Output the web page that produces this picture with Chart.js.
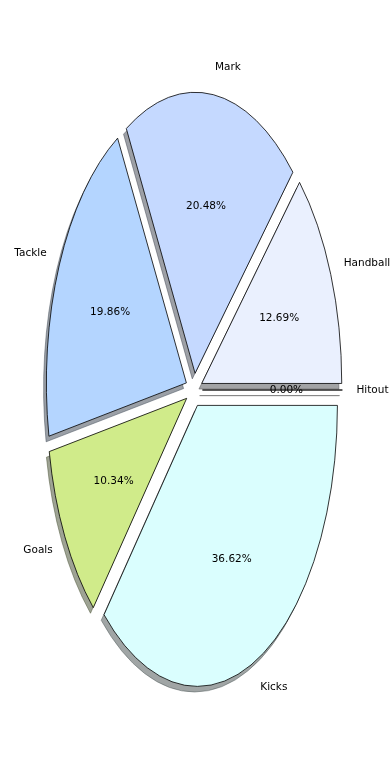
<!DOCTYPE html>
<html>
<head>
<meta charset="utf-8">
<script src="https://cdn.jsdelivr.net/npm/chart.js@4/dist/chart.umd.min.js"></script>
<style>
  html, body { margin: 0; padding: 0; background: #fff; }
  #wrap { width: 390px; height: 780px; }
</style>
</head>
<body>
<div id="wrap"><canvas id="pieChart"></canvas></div>
<script>
// --- Data (clockwise on screen, starting at 3 o'clock) ---
const categories = ['Kicks', 'Goals', 'Tackle', 'Mark', 'Handball', 'Hitout'];
const shares = [36.62, 10.34, 19.86, 20.48, 12.69, 0.00];
const sliceColors = ['#dafefe', '#d0eb8a', '#b4d5ff', '#c5d9ff', '#eaf0fe', '#f0f0f0'];

// --- Ellipse geometry (axes are not equal aspect) ---
const RX = 140;
const RY = 281;
const EXPLODE = 0.06 * RX;
const SHADOW = { dx: -0.02 * RX, dy: 0.02 * RY };

let pieCenter = null;

function toRgb(hex) {
  const n = parseInt(hex.slice(1), 16);
  return [(n >> 16) & 255, (n >> 8) & 255, n & 255];
}

function midAngle(arc) {
  return (arc.startAngle + arc.endAngle) / 2;
}

// wedge path in device space, y stretched about the pie centre
function arcPath(ctx, arc, dx = 0, dy = 0) {
  const { cx, cy } = pieCenter;
  const mid = midAngle(arc);
  ctx.save();
  ctx.translate(dx, dy);
  ctx.translate(cx, cy);
  ctx.scale(1, RY / RX);
  ctx.translate(-cx, -cy);
  ctx.translate(Math.cos(mid) * EXPLODE, Math.sin(mid) * EXPLODE);
  ctx.beginPath();
  ctx.moveTo(cx, cy);
  ctx.arc(cx, cy, arc.outerRadius, arc.startAngle, arc.endAngle);
  ctx.closePath();
  ctx.restore();
}

const ellipsePie = {
  id: 'ellipsePie',
  beforeDatasetsDraw(chart) {
    const ctx = chart.ctx;
    const arcs = chart.getDatasetMeta(0).data;
    pieCenter = { cx: arcs[0].x, cy: arcs[0].y };
    const { cx, cy } = pieCenter;

    // shadows under all wedges
    arcs.forEach((arc, i) => {
      const [r, g, b] = toRgb(sliceColors[i]).map(c => Math.round(c * 0.3));
      arcPath(ctx, arc, SHADOW.dx, SHADOW.dy);
      ctx.fillStyle = `rgba(${r},${g},${b},0.5)`;
      ctx.strokeStyle = `rgba(${r},${g},${b},0.5)`;
      ctx.lineWidth = 0.9;
      ctx.fill();
      ctx.stroke();
    });

    // explode: move each wedge centre out along its mid angle
    arcs.forEach(arc => {
      const mid = midAngle(arc);
      arc.x = cx + Math.cos(mid) * EXPLODE;
      arc.y = cy + Math.sin(mid) * EXPLODE;
    });

    ctx.save();
    ctx.translate(cx, cy);
    ctx.scale(1, RY / RX);
    ctx.translate(-cx, -cy);
  },
  afterDatasetsDraw(chart) {
    const ctx = chart.ctx;
    ctx.restore();
    const arcs = chart.getDatasetMeta(0).data;
    const { cx, cy } = pieCenter;
    arcs.forEach(arc => { arc.x = cx; arc.y = cy; });

    const total = shares.reduce((s, v) => s + v, 0);
    const k = RY / RX;

    arcs.forEach(arc => {
      arcPath(ctx, arc);
      ctx.strokeStyle = '#000';
      ctx.lineWidth = 0.8;
      ctx.stroke();
    });

    ctx.font = '10.5px "DejaVu Sans"';
    ctx.fillStyle = '#000';
    ctx.textBaseline = 'middle';
    arcs.forEach((arc, i) => {
      const mid = midAngle(arc);
      const c = Math.cos(mid), s = Math.sin(mid);
      const lx = cx + c * (EXPLODE + 1.1 * RX);
      const ly = cy + s * (EXPLODE + 1.1 * RX) * k;
      ctx.textAlign = c > 0 ? 'left' : 'right';
      ctx.fillText(categories[i], lx, ly);
      const px = cx + c * (EXPLODE + 0.6 * RX);
      const py = cy + s * (EXPLODE + 0.6 * RX) * k;
      ctx.textAlign = 'center';
      ctx.fillText((100 * shares[i] / total).toFixed(2) + '%', px, py);
    });
  }
};

new Chart(document.getElementById('pieChart'), {
  type: 'pie',
  data: {
    labels: categories,
    datasets: [{
      data: shares,
      backgroundColor: sliceColors,
      borderWidth: 0,
      hoverOffset: 0
    }]
  },
  options: {
    responsive: true,
    maintainAspectRatio: false,
    animation: false,
    events: [],
    rotation: 90,
    radius: RX,
    layout: { padding: { left: 0, right: 2, top: 0, bottom: 0 } },
    plugins: {
      legend: { display: false },
      tooltip: { enabled: false }
    }
  },
  plugins: [ellipsePie]
});
</script>
</body>
</html>
